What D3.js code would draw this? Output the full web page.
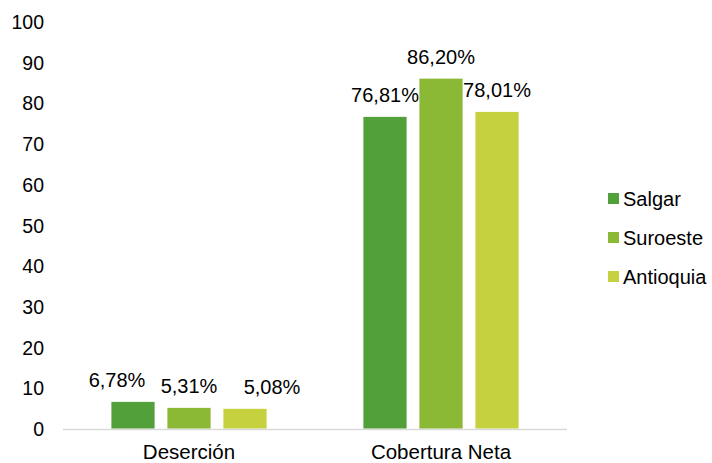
<!DOCTYPE html>
<html>
<head>
<meta charset="utf-8">
<script src="https://cdn.jsdelivr.net/npm/d3@7"></script>
<style>
  body { margin: 0; background: #fff; }
  text { font-family: "Liberation Sans", Arial, sans-serif; fill: #000; }
</style>
</head>
<body>
<script>
// data
var categories = ["Deserción", "Cobertura Neta"];
var seriesNames = ["Salgar", "Suroeste", "Antioquia"];
var salgar = [6.78, 76.81];
var suroeste = [5.31, 86.20];
var antioquia = [5.08, 78.01];
var yTicks = [0, 10, 20, 30, 40, 50, 60, 70, 80, 90, 100];
var colors = ["#52a03a", "#8cb935", "#c5d13e"];
// hand nudges of the small labels so they do not collide (px, per category / series)
var labelNudge = [[-16, 0, 27], [0, 0, 0]];

var values = [salgar, suroeste, antioquia];

var w = 712, h = 463;
var svg = d3.select("body").append("svg")
    .attr("width", w)
    .attr("height", h);

var x0 = d3.scaleBand()
    .domain(categories)
    .range([63, 567])
    .paddingInner(0)
    .paddingOuter(0);

var x1 = d3.scaleBand()
    .domain(seriesNames)
    .range([0, x0.bandwidth()])
    .paddingInner(0.214)
    .paddingOuter(0.857);

var y = d3.scaleLinear()
    .domain([0, 100])
    .range([429, 22]);

// y tick labels (no axis line)
svg.append("g")
    .selectAll("text")
    .data(yTicks)
    .enter()
    .append("text")
    .attr("x", 44)
    .attr("y", function(d){ return y(d); })
    .attr("dy", "0.36em")
    .attr("text-anchor", "end")
    .style("font-size", "19.5px")
    .text(function(d){ return d; });

// bars
var groups = svg.selectAll(".grp")
    .data(categories)
    .enter()
    .append("g")
    .attr("class", "grp")
    .attr("transform", function(d){ return "translate(" + x0(d) + ",0)"; });

function rows(d, i){
    return seriesNames.map(function(s, j){ return {s: s, i: i, j: j, v: values[j][i]}; });
}

groups.selectAll("rect")
    .data(rows)
    .enter()
    .append("rect")
    .attr("x", function(d){ return x1(d.s); })
    .attr("width", x1.bandwidth())
    .attr("y", function(d){ return y(d.v); })
    .attr("height", function(d){ return y(0) - y(d.v); })
    .style("fill", function(d){ return colors[d.j]; })
    .style("stroke", "#fff")
    .style("stroke-width", 0.8);

groups.selectAll(".lbl")
    .data(rows)
    .enter()
    .append("text")
    .attr("class", "lbl")
    .attr("x", function(d){ return x1(d.s) + x1.bandwidth() / 2 + labelNudge[d.i][d.j]; })
    .attr("y", function(d){ return y(d.v) - 14; })
    .attr("text-anchor", "middle")
    .style("font-size", "20px")
    .text(function(d){ return d.v.toFixed(2).replace(".", ",") + "%"; });

// baseline
svg.append("line")
    .attr("x1", 63)
    .attr("x2", 567)
    .attr("y1", y(0) + 0.5)
    .attr("y2", y(0) + 0.5)
    .style("stroke", "#d9d9d9")
    .style("stroke-width", 1.3);

// category labels
svg.append("g")
    .selectAll("text")
    .data(categories)
    .enter()
    .append("text")
    .attr("x", function(d){ return x0(d) + x0.bandwidth() / 2; })
    .attr("y", 459)
    .attr("text-anchor", "middle")
    .style("font-size", "20.5px")
    .text(function(d){ return d; });

// legend
var legend = svg.append("g")
    .selectAll("g")
    .data(seriesNames)
    .enter()
    .append("g")
    .attr("transform", function(d, i){ return "translate(608," + (199 + i * 39) + ")"; });

legend.append("rect")
    .attr("x", 0)
    .attr("y", -6)
    .attr("width", 11)
    .attr("height", 11)
    .style("fill", function(d, i){ return colors[i]; });

legend.append("text")
    .attr("x", 15)
    .attr("y", 0)
    .attr("dy", "0.36em")
    .style("font-size", "20px")
    .text(function(d){ return d; });
</script>
</body>
</html>
